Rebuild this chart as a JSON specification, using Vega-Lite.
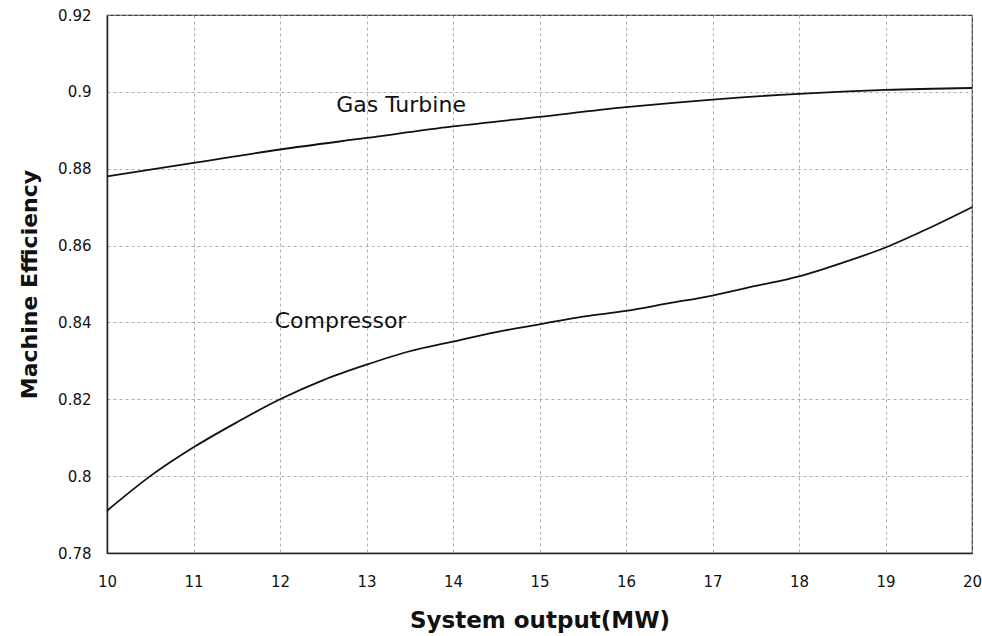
{
  "$schema": "https://vega.github.io/schema/vega-lite/v6.json",
  "width": 865,
  "height": 538,
  "autosize": {"type": "none"},
  "padding": {"left": 107, "top": 15, "right": 10, "bottom": 83},
  "background": "white",
  "config": {
    "font": "DejaVu Sans",
    "view": {"stroke": "#333", "strokeWidth": 1.2},
    "axis": {
      "grid": true,
      "gridColor": "#999",
      "gridDash": [3, 3],
      "gridWidth": 0.8,
      "ticks": false,
      "domain": true,
      "domainColor": "#222",
      "domainWidth": 1.5,
      "labelFlush": false,
      "labelOverlap": false,
      "labelFont": "DejaVu Sans",
      "labelFontSize": 15,
      "labelColor": "#111",
      "titleFont": "DejaVu Sans",
      "titleFontWeight": "bold",
      "titleColor": "#111"
    }
  },
  "datasets": {
    "curves": [
      {"x": 10, "y": 0.878, "series": "Gas Turbine"},
      {"x": 11, "y": 0.8815, "series": "Gas Turbine"},
      {"x": 12, "y": 0.885, "series": "Gas Turbine"},
      {"x": 13, "y": 0.888, "series": "Gas Turbine"},
      {"x": 14, "y": 0.891, "series": "Gas Turbine"},
      {"x": 15, "y": 0.8935, "series": "Gas Turbine"},
      {"x": 16, "y": 0.896, "series": "Gas Turbine"},
      {"x": 17, "y": 0.898, "series": "Gas Turbine"},
      {"x": 18, "y": 0.8995, "series": "Gas Turbine"},
      {"x": 19, "y": 0.9005, "series": "Gas Turbine"},
      {"x": 20, "y": 0.901, "series": "Gas Turbine"},
      {"x": 10, "y": 0.791, "series": "Compressor"},
      {"x": 10.5, "y": 0.8, "series": "Compressor"},
      {"x": 11, "y": 0.8075, "series": "Compressor"},
      {"x": 11.5, "y": 0.814, "series": "Compressor"},
      {"x": 12, "y": 0.82, "series": "Compressor"},
      {"x": 12.5, "y": 0.825, "series": "Compressor"},
      {"x": 13, "y": 0.829, "series": "Compressor"},
      {"x": 13.5, "y": 0.8325, "series": "Compressor"},
      {"x": 14, "y": 0.835, "series": "Compressor"},
      {"x": 14.5, "y": 0.8375, "series": "Compressor"},
      {"x": 15, "y": 0.8395, "series": "Compressor"},
      {"x": 15.5, "y": 0.8415, "series": "Compressor"},
      {"x": 16, "y": 0.843, "series": "Compressor"},
      {"x": 16.5, "y": 0.845, "series": "Compressor"},
      {"x": 17, "y": 0.847, "series": "Compressor"},
      {"x": 17.5, "y": 0.8495, "series": "Compressor"},
      {"x": 18, "y": 0.852, "series": "Compressor"},
      {"x": 18.5, "y": 0.8555, "series": "Compressor"},
      {"x": 19, "y": 0.8595, "series": "Compressor"},
      {"x": 19.5, "y": 0.8645, "series": "Compressor"},
      {"x": 20, "y": 0.87, "series": "Compressor"}
    ],
    "labels": [
      {"x": 13.4, "y": 0.8966, "text": "Gas Turbine"},
      {"x": 12.7, "y": 0.8403, "text": "Compressor"}
    ]
  },
  "layer": [
    {
      "data": {"name": "curves"},
      "mark": {"type": "line", "color": "#111", "strokeWidth": 1.8, "interpolate": "monotone"},
      "encoding": {
        "x": {
          "field": "x", "type": "quantitative",
          "scale": {"domain": [10, 20], "nice": false},
          "axis": {"title": "System output(MW)", "format": "d", "values": [10,11,12,13,14,15,16,17,18,19,20], "labelPadding": 21, "titlePadding": 20, "titleFontSize": 23}
        },
        "y": {
          "field": "y", "type": "quantitative",
          "scale": {"domain": [0.78, 0.92], "nice": false, "zero": false},
          "axis": {"title": "Machine Efficiency", "format": "~g", "values": [0.78, 0.8, 0.82, 0.84, 0.86, 0.88, 0.9, 0.92], "labelPadding": 16, "titlePadding": 16, "titleFontSize": 22}
        },
        "detail": {"field": "series"}
      }
    },
    {
      "data": {"name": "labels"},
      "mark": {"type": "text", "font": "DejaVu Sans", "fontSize": 22, "color": "#111"},
      "encoding": {
        "x": {"field": "x", "type": "quantitative"},
        "y": {"field": "y", "type": "quantitative"},
        "text": {"field": "text"}
      }
    }
  ]
}
